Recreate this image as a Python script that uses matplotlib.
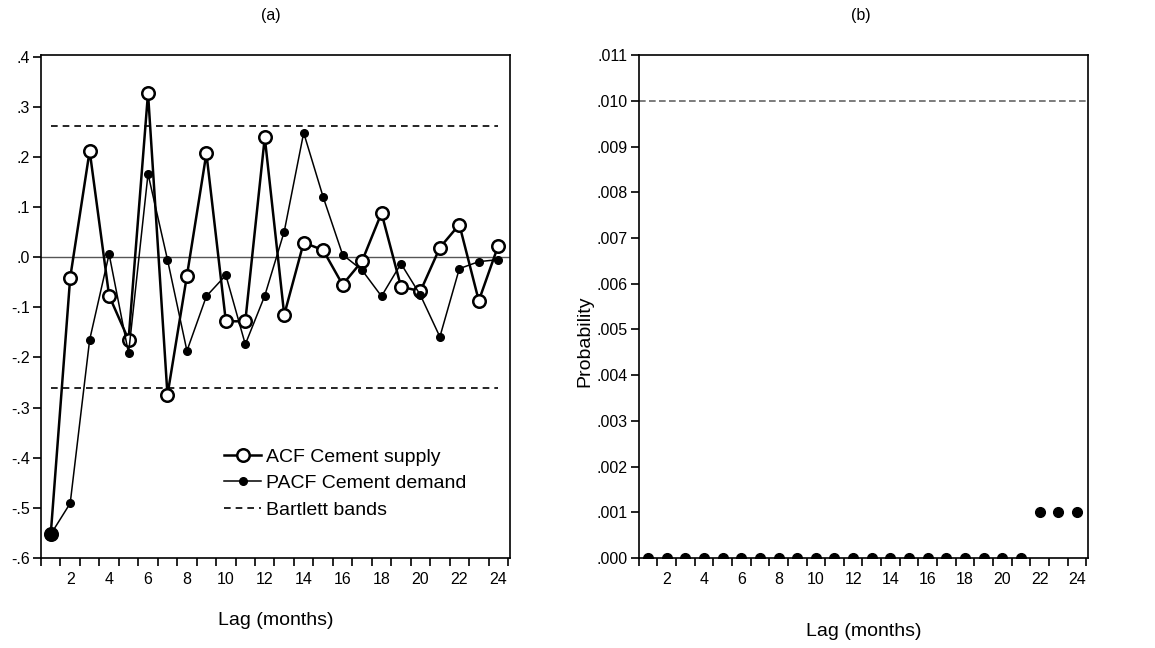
import matplotlib
matplotlib.use("Agg")
import matplotlib.pyplot as plt
from matplotlib.ticker import FuncFormatter
from matplotlib.lines import Line2D

plt.rcParams['font.family'] = ['Liberation Sans', 'DejaVu Sans']

lags = list(range(1, 25))
acf_supply = [-0.553, -0.041, 0.212, -0.077, -0.165, 0.327, -0.275, -0.037, 0.207, -0.128,
              -0.128, 0.239, -0.115, 0.029, 0.014, -0.055, -0.008, 0.088, -0.059, -0.068,
              0.019, 0.065, -0.087, 0.023]
pacf_demand = [-0.553, -0.491, -0.165, 0.006, -0.192, 0.166, -0.005, -0.187, -0.078, -0.036,
               -0.174, -0.077, 0.051, 0.248, 0.120, 0.005, -0.026, -0.078, -0.013, -0.076,
               -0.159, -0.023, -0.009, -0.005]
bartlett = 0.261
probability = [0.0] * 21 + [0.001, 0.001, 0.001]
prob_threshold = 0.010
xtick_labels = list(range(2, 25, 2))

fig = plt.figure(figsize=(11.55, 6.48), dpi=100)
FS = 11.5
LFS = 14

def fmt(v, pos, nd):
    s = f"{v:.{nd}f}"
    if s.startswith("-0"):
        s = "-" + s[2:]
    elif s.startswith("0"):
        s = s[1:]
    return s

def style_x(ax):
    ax.set_xlim(0.5, 24.6)
    ax.set_xticks(xtick_labels)
    ax.set_xticklabels([str(v) for v in xtick_labels], fontsize=FS)
    ax.set_xticks([k + 0.5 for k in range(0, 25)], minor=True)
    ax.tick_params(axis='x', which='major', length=0, pad=10)
    ax.tick_params(axis='x', which='minor', length=6, width=1.2, direction='out')
    ax.tick_params(axis='y', which='major', length=6, width=1.2, direction='out', labelsize=FS, pad=2)
    for s in ax.spines.values():
        s.set_linewidth(1.2)

# Panel (a)
ax1 = fig.add_axes([0.0355, 0.139, 0.406, 0.776])
ax1.axhline(0, color='#555555', lw=1.0, zorder=1)
ax1.plot([lags[0], lags[-1]], [bartlett, bartlett], ls=(0, (4, 3)), color='black', lw=1.2)
ax1.plot([lags[0], lags[-1]], [-bartlett, -bartlett], ls=(0, (4, 3)), color='black', lw=1.2)
ax1.plot(lags, acf_supply, color='black', lw=1.8, marker='o', ms=9, mfc='white', mec='black', mew=1.8, zorder=3)
ax1.plot(lags, pacf_demand, color='black', lw=1.1, marker='o', ms=5.5, mfc='black', mec='black', zorder=4)
ax1.scatter([lags[0]], [pacf_demand[0]], s=80, color='black', zorder=5)
ax1.set_ylim(-0.6, 0.403)
ax1.set_yticks([0.4, 0.3, 0.2, 0.1, 0.0, -0.1, -0.2, -0.3, -0.4, -0.5, -0.6])
ax1.yaxis.set_major_formatter(FuncFormatter(lambda v, p: fmt(v, p, 1)))
style_x(ax1)
ax1.set_xlabel("Lag (months)", fontsize=LFS, labelpad=18)
ax1.set_title("(a)", fontsize=FS, pad=25, x=0.49)

handles = [
    Line2D([], [], color='black', lw=1.8, marker='o', ms=9, mfc='white', mec='black', mew=1.8),
    Line2D([], [], color='black', lw=1.1, marker='o', ms=5.5, mfc='black'),
    Line2D([], [], color='black', lw=1.2, ls=(0, (4, 3))),
]
ax1.legend(handles, ["ACF Cement supply", "PACF Cement demand", "Bartlett bands"],
           loc='upper left', bbox_to_anchor=(0.37, 0.238), frameon=False, fontsize=LFS,
           numpoints=1, handlelength=1.9, handletextpad=0.26, labelspacing=0.46, borderpad=0)

# Panel (b)
ax2 = fig.add_axes([0.553, 0.139, 0.389, 0.776])
ax2.plot([0.5, 24.6], [prob_threshold, prob_threshold], ls=(0, (4, 2)), color='#666666', lw=1.2)
ax2.plot(lags, probability, ls='none', marker='o', ms=7, color='black', clip_on=True, zorder=3)
ax2.set_ylim(0, 0.011)
ax2.set_yticks([i / 1000 for i in range(0, 12)])
ax2.yaxis.set_major_formatter(FuncFormatter(lambda v, p: fmt(v, p, 3)))
style_x(ax2)
ax2.set_xlabel("Lag (months)", fontsize=LFS, labelpad=26)
ax2.set_ylabel("Probability", fontsize=LFS)
ax2.yaxis.set_label_coords(-0.102, 0.43)
ax2.set_title("(b)", fontsize=FS, pad=25, x=0.495)

fig.savefig("out.png", dpi=100, facecolor='white')
